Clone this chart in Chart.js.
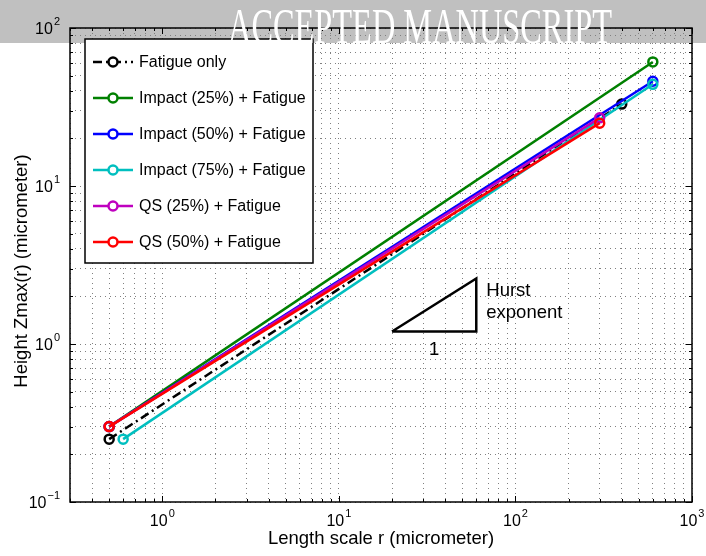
<!DOCTYPE html>
<html>
<head>
<meta charset="utf-8">
<script src="https://cdn.jsdelivr.net/npm/chart.js@4.4.0/dist/chart.umd.min.js"></script>
<style>
  body { margin: 0; background: #fff; }
  #wrap { position: relative; width: 706px; height: 556px; }
</style>
</head>
<body>
<div id="wrap"><canvas id="zmaxChart" width="706" height="556"></canvas></div>
<script>
// Length scale r (micrometer): first and last point of each fit
const rFatigue  = [0.5, 400];
const rImpact25 = [0.5, 600];
const rImpact50 = [0.5, 600];
const rImpact75 = [0.6, 600];
const rQs25     = [0.5, 300];
const rQs50     = [0.5, 300];

// Height Zmax(r) (micrometer)
const zFatigue  = [0.25, 33];
const zImpact25 = [0.3, 61];
const zImpact50 = [0.3, 46];
const zImpact75 = [0.25, 44];
const zQs25     = [0.3, 27];
const zQs50     = [0.3, 25];

const seriesLabels = ['Fatigue only', 'Impact (25%) + Fatigue', 'Impact (50%) + Fatigue',
                      'Impact (75%) + Fatigue', 'QS (25%) + Fatigue', 'QS (50%) + Fatigue'];
const seriesColors = ['#000000', '#008000', '#0000ff', '#00bfbf', '#bf00bf', '#ff0000'];

// slope triangle (Hurst exponent)
const triR = [20, 60, 60, 20];
const triZ = [1.2, 1.2, 2.6, 1.2];

const xTickExps = [0, 1, 2, 3];
const yTickExps = [-1, 0, 1, 2];
const xRange = [0.3, 1000];
const yRange = [0.1, 100];

const FONT = '"Liberation Sans", Arial, Helvetica, sans-serif';
const DASH_DOT = [9, 4, 2, 4];

function pts(xs, ys) {
    return xs.map((x, i) => ({ x: x, y: ys[i] }));
}

// 1..9 x 10^k inside the axis range, for the dotted grid
function decadeGrid(min, max) {
    const vals = [];
    for (let e = Math.floor(Math.log10(min)); e <= Math.ceil(Math.log10(max)); e++) {
        for (let d = 1; d <= 9; d++) {
            const v = d * Math.pow(10, e);
            if (v >= min * 0.999 && v <= max * 1.001) vals.push(v);
        }
    }
    return vals;
}

const rs = [rFatigue, rImpact25, rImpact50, rImpact75, rQs25, rQs50];
const zs = [zFatigue, zImpact25, zImpact50, zImpact75, zQs25, zQs50];

const datasets = seriesLabels.map((label, i) => ({
    label: label,
    data: pts(rs[i], zs[i]),
    borderColor: seriesColors[i],
    backgroundColor: 'rgba(0,0,0,0)',
    borderWidth: 2.5,
    borderDash: i === 0 ? DASH_DOT : [],
    pointRadius: 4.5,
    pointBorderWidth: 2.5,
    pointBorderColor: seriesColors[i],
    pointBackgroundColor: 'rgba(0,0,0,0)',
    order: seriesLabels.length - i,
    showLine: true
}));

datasets.push({
    label: 'hurst',
    data: pts(triR, triZ),
    borderColor: '#000',
    borderWidth: 2.5,
    pointRadius: 0,
    showLine: true,
    order: 10
});

// "10" with a raised exponent, centred on x or right-aligned to x
function supLabel(ctx, base, exp, x, y, align) {
    ctx.font = '16px ' + FONT;
    const wb = ctx.measureText(base).width;
    ctx.font = '11px ' + FONT;
    const we = ctx.measureText(exp).width;
    let x0;
    if (align === 'center') x0 = x - (wb + we + 1) / 2;
    else x0 = x - wb - we - 1;
    ctx.fillStyle = '#000';
    ctx.textBaseline = 'middle';
    ctx.textAlign = 'left';
    ctx.font = '16px ' + FONT;
    ctx.fillText(base, x0, y);
    ctx.font = '11px ' + FONT;
    ctx.fillText(exp, x0 + wb + 1, y - 8);
}

const matlabFrame = {
    id: 'matlabFrame',
    beforeDraw(chart) {
        const ctx = chart.ctx;
        ctx.save();
        ctx.fillStyle = '#fff';
        ctx.fillRect(0, 0, chart.width, chart.height);
        ctx.fillStyle = '#c0c0c0';
        ctx.fillRect(0, 0, chart.width, 43);
        ctx.restore();
    },
    afterDraw(chart) {
        const ctx = chart.ctx;
        const a = chart.chartArea;
        const xs = chart.scales.x, ys = chart.scales.y;
        ctx.save();

        // axis box
        ctx.strokeStyle = '#000';
        ctx.lineWidth = 1.5;
        ctx.strokeRect(a.left, a.top, a.right - a.left, a.bottom - a.top);

        // inward tick marks on all four sides
        ctx.lineWidth = 1;
        decadeGrid(xRange[0], xRange[1]).forEach(v => {
            const px = Math.round(xs.getPixelForValue(v)) + 0.5;
            const len = Math.abs(Math.log10(v) % 1) < 1e-6 ? 6 : 3;
            ctx.beginPath();
            ctx.moveTo(px, a.bottom); ctx.lineTo(px, a.bottom - len);
            ctx.moveTo(px, a.top); ctx.lineTo(px, a.top + len);
            ctx.stroke();
        });
        decadeGrid(yRange[0], yRange[1]).forEach(v => {
            const py = Math.round(ys.getPixelForValue(v)) + 0.5;
            const len = Math.abs(Math.log10(v) % 1) < 1e-6 ? 6 : 3;
            ctx.beginPath();
            ctx.moveTo(a.left, py); ctx.lineTo(a.left + len, py);
            ctx.moveTo(a.right, py); ctx.lineTo(a.right - len, py);
            ctx.stroke();
        });

        // tick labels
        xTickExps.forEach(e => {
            supLabel(ctx, '10', String(e), xs.getPixelForValue(Math.pow(10, e)), a.bottom + 20, 'center');
        });
        yTickExps.forEach(e => {
            supLabel(ctx, '10', e < 0 ? '\u2212' + Math.abs(e) : String(e), a.left - 10, ys.getPixelForValue(Math.pow(10, e)) + 2, 'right');
        });

        // axis titles
        ctx.fillStyle = '#000';
        ctx.font = '18.5px ' + FONT;
        ctx.textAlign = 'center';
        ctx.textBaseline = 'middle';
        ctx.fillText('Length scale r (micrometer)', (a.left + a.right) / 2, 539);
        ctx.save();
        ctx.translate(22, (a.top + a.bottom) / 2 + 6);
        ctx.rotate(-Math.PI / 2);
        ctx.fillText('Height Zmax(r) (micrometer)', 0, 0);
        ctx.restore();

        // triangle labels
        ctx.font = '18.5px ' + FONT;
        ctx.textAlign = 'left';
        const tx = xs.getPixelForValue(triR[1]) + 10;
        const tTop = ys.getPixelForValue(triZ[2]);
        ctx.fillText('Hurst', tx, tTop + 12);
        ctx.fillText('exponent', tx, tTop + 34);
        ctx.textAlign = 'center';
        ctx.fillText('1', xs.getPixelForValue(Math.sqrt(triR[0] * triR[1])), ys.getPixelForValue(triZ[0]) + 18);

        // legend box
        const lx = 85, ly = 39, lw = 228, lh = 224;
        ctx.fillStyle = '#fff';
        ctx.fillRect(lx, ly, lw, lh);
        ctx.strokeStyle = '#000';
        ctx.lineWidth = 1.5;
        ctx.strokeRect(lx, ly, lw, lh);
        seriesLabels.forEach((label, i) => {
            const y = ly + 23 + i * 36;
            ctx.strokeStyle = seriesColors[i];
            ctx.lineWidth = 2.5;
            ctx.setLineDash(i === 0 ? DASH_DOT : []);
            ctx.beginPath();
            ctx.moveTo(93, y); ctx.lineTo(133, y);
            ctx.stroke();
            ctx.setLineDash([]);
            ctx.beginPath();
            ctx.arc(113, y, 4.5, 0, Math.PI * 2);
            ctx.fillStyle = '#fff';
            ctx.fill();
            ctx.stroke();
            ctx.fillStyle = '#000';
            ctx.font = '16px ' + FONT;
            ctx.textAlign = 'left';
            ctx.textBaseline = 'middle';
            ctx.fillText(label, 139, y + 1);
        });

        // banner text
        ctx.fillStyle = '#fff';
        ctx.font = '50px "Liberation Serif", "Times New Roman", serif';
        ctx.textAlign = 'center';
        ctx.textBaseline = 'alphabetic';
        ctx.fillText('ACCEPTED MANUSCRIPT', 420, 43, 384);

        ctx.restore();
    }
};

new Chart(document.getElementById('zmaxChart'), {
    type: 'scatter',
    data: { datasets: datasets },
    options: {
        responsive: false,
        animation: false,
        layout: { padding: { left: 70, right: 14, top: 28, bottom: 54 } },
        plugins: { legend: { display: false }, tooltip: { enabled: false } },
        scales: {
            x: {
                type: 'logarithmic',
                min: xRange[0], max: xRange[1],
                afterBuildTicks: s => { s.ticks = decadeGrid(xRange[0], xRange[1]).map(v => ({ value: v })); },
                ticks: { display: false },
                grid: { color: '#808080', lineWidth: 1, drawTicks: false },
                border: { display: false, dash: [1, 4] }
            },
            y: {
                type: 'logarithmic',
                min: yRange[0], max: yRange[1],
                afterBuildTicks: s => { s.ticks = decadeGrid(yRange[0], yRange[1]).map(v => ({ value: v })); },
                ticks: { display: false },
                grid: { color: '#808080', lineWidth: 1, drawTicks: false },
                border: { display: false, dash: [1, 4] }
            }
        }
    },
    plugins: [matlabFrame]
});
</script>
</body>
</html>
